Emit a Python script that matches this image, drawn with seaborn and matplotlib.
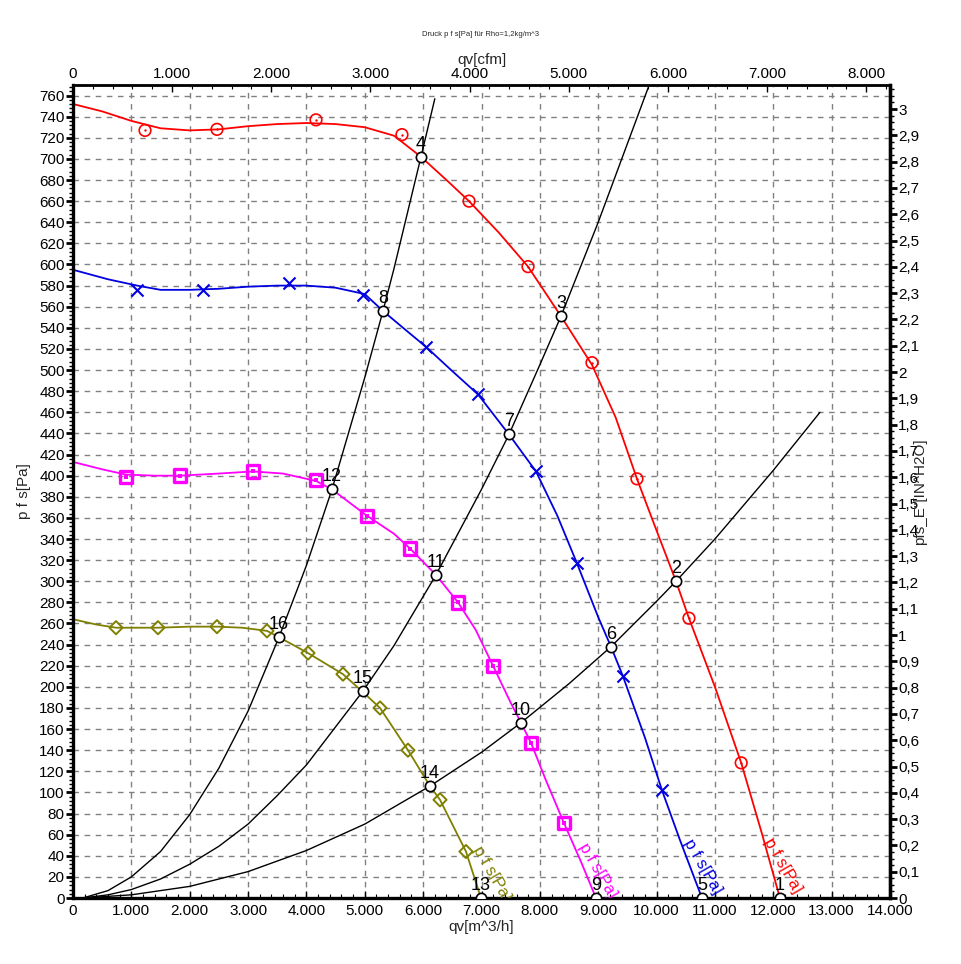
import numpy as np
import pandas as pd
import matplotlib
matplotlib.use("Agg")
import matplotlib.pyplot as plt
import seaborn as sns
from matplotlib.ticker import MultipleLocator, FixedLocator, FuncFormatter

# ---------------- data ----------------
# fan curves: line vertices (q [m^3/h], p [Pa])
red_q = [0, 500, 1000, 1500, 2000, 2500, 3000, 3500, 4000, 4500, 5000, 5500, 5963, 6400, 6786, 7300, 7797, 8362, 8893, 9300, 9664, 10000, 10333, 10555, 11000, 11450, 11800, 12114]
red_p = [752, 745, 736, 729, 727, 728, 731, 733, 734, 733, 730, 722, 702, 680, 660, 630, 598, 551, 505, 455, 397, 348, 300, 265, 200, 128, 62, 0]
red_mq = [1234, 2467, 4164, 5637, 6786, 7797, 8893, 9664, 10555, 11450]
red_mp = [727, 728, 737, 723, 660, 598, 507, 397, 265, 128]

blue_q = [0, 600, 1100, 1500, 2000, 2500, 3000, 3500, 4000, 4500, 5000, 5312, 5700, 6049, 6500, 6940, 7471, 7934, 8300, 8636, 9000, 9219, 9424, 9800, 10093, 10400, 10778]
blue_p = [595, 586, 580, 576, 576, 577, 579, 580, 580, 578, 572, 556, 538, 522, 499, 477, 439, 404, 362, 317, 266, 238, 210, 152, 102, 55, 0]
blue_mq = [1097, 2228, 3701, 4969, 6049, 6940, 7934, 8636, 9424, 10093]
blue_mp = [576, 576, 582, 571, 522, 477, 404, 317, 210, 102]

mag_q = [0, 500, 908, 1400, 1833, 2500, 3084, 3600, 4164, 4438, 5038, 5500, 5775, 6220, 6597, 6900, 7197, 7500, 7677, 7848, 8100, 8413, 8700, 8962]
mag_p = [413, 406, 401, 400, 400, 402, 404, 402, 395, 387, 362, 345, 331, 306, 280, 254, 220, 185, 166, 147, 112, 71, 35, 0]
mag_mq = [908, 1833, 3084, 4164, 5038, 5775, 6597, 7197, 7848, 8413]
mag_mp = [399, 400, 404, 396, 362, 331, 280, 220, 147, 71]

oli_q = [0, 400, 737, 1200, 1456, 2000, 2467, 2900, 3324, 3530, 4027, 4626, 4969, 5261, 5740, 6117, 6289, 6734, 6991]
oli_p = [264, 259, 256, 256, 256, 257, 257, 256, 253, 247, 232, 212, 195, 180, 140, 106, 93, 44, 0]
oli_mq = [737, 1456, 2467, 3324, 4027, 4626, 5261, 5740, 6289, 6734]
oli_mp = [256, 256, 257, 253, 232, 212, 180, 140, 93, 44]

# system curves (black)
sysA_q = [170, 600, 1000, 1500, 2000, 2500, 3000, 3530, 4000, 4438, 5000, 5312, 5500, 5963, 6200]
sysA_p = [0, 7, 20, 44, 79, 123, 177, 247, 315, 387, 493, 556, 596, 702, 757]
sysB_q = [170, 600, 1000, 1500, 2000, 2500, 3000, 3500, 4000, 4969, 5500, 6220, 7000, 7471, 8000, 8362, 9000, 9860]
sysB_p = [0, 3, 8, 18, 32, 49, 70, 97, 126, 196, 239, 306, 387, 439, 505, 551, 640, 768]
sysC_q = [170, 1000, 2000, 3000, 4000, 5000, 6117, 7000, 7677, 8500, 9219, 10000, 10333, 11000, 12000, 12800]
sysC_p = [0, 3, 11, 25, 45, 70, 106, 138, 166, 203, 238, 281, 300, 340, 405, 460]

# operating points
op_labels = ["1", "2", "3", "4", "5", "6", "7", "8", "9", "10", "11", "12", "13", "14", "15", "16"]
op_q = [12114, 10333, 8362, 5963, 10778, 9219, 7471, 5312, 8962, 7677, 6220, 4438, 6991, 6117, 4969, 3530]
op_p = [0, 300, 551, 702, 0, 238, 439, 556, 0, 166, 306, 387, 0, 106, 196, 247]

curve_label = "p f s[Pa]"
curve_label_q = [12170, 10790, 8990, 7170]
curve_label_p = [31, 30, 26, 23]

x_ticks = list(range(0, 14001, 1000))
cfm_ticks = list(range(0, 8001, 1000))
title = "Druck p f s[Pa] für Rho=1,2kg/m^3"
right_label = 'pfs_E"[IN^H2O]'

RED, BLUE, MAG, OLI = "#FF0000", "#0000E0", "#FF00FF", "#808000"

# ---------------- figure ----------------
sns.set_theme(style="white")
plt.rcParams["font.family"] = ["Liberation Sans", "DejaVu Sans"]

fig = plt.figure(figsize=(9.61, 9.64), dpi=100)
ax = fig.add_axes([73 / 961, 66 / 964, 817 / 961, 813 / 964])
ax.set_xlim(0, 14000)
ax.set_ylim(0, 770)

# grid
ax.set_axisbelow(True)
ax.grid(True, which="major", color="#808080", linestyle=(0, (4, 4)), linewidth=1.0)

# system curves
for q, p in [(sysA_q, sysA_p), (sysB_q, sysB_p), (sysC_q, sysC_p)]:
    sns.lineplot(x=q, y=p, ax=ax, color="black", linewidth=1.0, sort=False, estimator=None)

# fan curves
for q, p, mq, mp, col, mk in [
    (red_q, red_p, red_mq, red_mp, RED, "o"),
    (blue_q, blue_p, blue_mq, blue_mp, BLUE, "x"),
    (mag_q, mag_p, mag_mq, mag_mp, MAG, "s"),
    (oli_q, oli_p, oli_mq, oli_mp, OLI, "D"),
]:
    sns.lineplot(x=q, y=p, ax=ax, color=col, linewidth=1.3, sort=False, estimator=None)
    if mk == "o":
        sns.scatterplot(x=mq, y=mp, ax=ax, marker="o", s=70, facecolor="none", edgecolor=col, linewidth=1.2, zorder=4)
        sns.scatterplot(x=mq, y=mp, ax=ax, marker="o", s=3, color=col, linewidth=0, zorder=4)
    elif mk == "x":
        sns.scatterplot(x=mq, y=mp, ax=ax, marker="x", s=75, color=col, linewidth=1.5, zorder=4)
    elif mk == "s":
        sns.scatterplot(x=mq, y=mp, ax=ax, marker="s", s=80, facecolor="none", edgecolor=col, linewidth=2.4, zorder=4)
        sns.scatterplot(x=mq, y=mp, ax=ax, marker="s", s=6, color=col, linewidth=0, zorder=4)
    else:
        sns.scatterplot(x=mq, y=mp, ax=ax, marker="D", s=45, facecolor="none", edgecolor=col, linewidth=1.4, zorder=4)

# curve name labels
for q, p, col in zip(curve_label_q, curve_label_p, [RED, BLUE, MAG, OLI]):
    ax.text(q, p, curve_label, color=col, fontsize=12, rotation=-60, rotation_mode="anchor",
            ha="center", va="center", clip_on=True, zorder=5)

# operating points
sns.scatterplot(x=op_q, y=op_p, ax=ax, marker="o", s=55, facecolor="white", edgecolor="black", linewidth=1.2, zorder=6)
for lab, q, p in zip(op_labels, op_q, op_p):
    ax.annotate(lab, (q, p), xytext=(0, 3), textcoords="offset points", ha="center", va="bottom",
                fontsize=13, color="black", zorder=7)

# spines
for s in ["left", "right", "bottom"]:
    ax.spines[s].set_linewidth(2.4)
    ax.spines[s].set_color("black")
ax.spines["top"].set_linewidth(1.8)
ax.spines["top"].set_color("black")

# bottom axis
ax.xaxis.set_major_locator(FixedLocator(x_ticks))
ax.xaxis.set_minor_locator(MultipleLocator(200))
ax.xaxis.set_major_formatter(FuncFormatter(lambda v, pos: f"{int(round(v)):,}".replace(",", ".")))
ax.tick_params(axis="x", which="major", direction="in", length=5, width=1, labelsize=11, pad=4, bottom=True, colors="black")
ax.tick_params(axis="x", which="minor", direction="in", length=3, width=0.8, bottom=True, colors="black")
ax.set_xlabel("qv[m^3/h]", fontsize=11, labelpad=2)

# left axis
ax.yaxis.set_major_locator(MultipleLocator(20))
ax.yaxis.set_minor_locator(MultipleLocator(4))
ax.tick_params(axis="y", which="major", direction="out", length=5, width=2, labelsize=11, pad=1, left=True, colors="black")
ax.tick_params(axis="y", which="minor", direction="out", length=3, width=1, left=True, colors="black")
ax.set_ylabel("p f s[Pa]", fontsize=11, labelpad=6)

# top axis (cfm)
top = ax.secondary_xaxis("top", functions=(lambda x: x / 1.699, lambda c: c * 1.699))
top.xaxis.set_major_locator(FixedLocator(cfm_ticks))
top.xaxis.set_minor_locator(MultipleLocator(200))
top.xaxis.set_major_formatter(FuncFormatter(lambda v, pos: f"{int(round(v)):,}".replace(",", ".")))
top.tick_params(axis="x", which="major", direction="in", length=5, width=1, labelsize=11, pad=3, colors="black")
top.tick_params(axis="x", which="minor", direction="in", length=3, width=0.8, colors="black")
top.spines["top"].set_linewidth(1.8)
top.set_xlabel("qv[cfm]", fontsize=11, labelpad=2)

# right axis (inH2O)
right = ax.secondary_yaxis("right", functions=(lambda p: p / 249.0889, lambda i: i * 249.0889))
right.yaxis.set_major_locator(MultipleLocator(0.1))
right.yaxis.set_minor_locator(MultipleLocator(0.025))
right.yaxis.set_major_formatter(FuncFormatter(lambda v, pos: (f"{v:.1f}".rstrip("0").rstrip(".")).replace(".", ",")))
right.tick_params(axis="y", which="major", direction="out", length=5, width=2, labelsize=11, pad=1, colors="black")
right.tick_params(axis="y", which="minor", direction="out", length=3, width=1, colors="black")
right.spines["right"].set_linewidth(2.4)
fig.text(920 / 961, 1 - 492 / 964, right_label, fontsize=11, rotation=90, ha="center", va="center")

fig.text(481 / 961, 1 - 35 / 964, title, fontsize=5.5, ha="center", va="center")

fig.savefig("out.png", dpi=100)
